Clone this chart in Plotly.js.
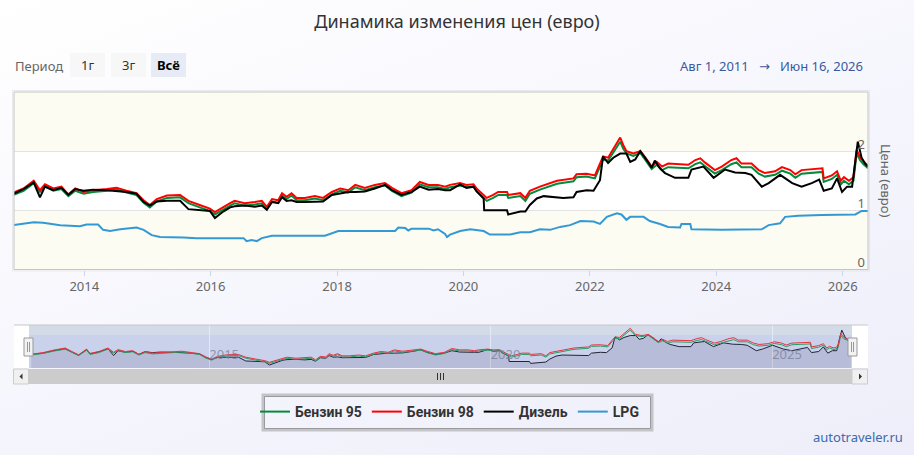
<!DOCTYPE html>
<html><head><meta charset="utf-8">
<script src="https://cdn.plot.ly/plotly-3.0.1.min.js"></script>
<style>
html,body{margin:0;padding:0;background:#fff;}
#wrap{width:914px;height:455px;background:linear-gradient(160deg,#ffffff 0%,#f5f5fd 55%,#eeeefa 100%);}
#chart{width:914px;height:455px;}
</style></head><body><div id="wrap"><div id="chart"></div></div>
<script>
// ---- data (decimal years, euro) ----
const gasYears = [
2011.84,2012.05,2012.23,2012.44,2012.56,2012.68,2012.82,2012.88,2013.04,2013.20,
2013.30,2013.38,2013.51,2013.64,2013.75,2013.86,2013.99,2014.14,2014.36,2014.51,
2014.67,2014.83,2014.94,2015.04,2015.15,2015.31,2015.52,2015.65,2015.83,2015.99,
2016.07,2016.20,2016.31,2016.38,2016.54,2016.70,2016.81,2016.89,2016.97,2017.07,
2017.13,2017.20,2017.28,2017.36,2017.49,2017.65,2017.78,2017.92,2018.05,2018.18,
2018.29,2018.44,2018.60,2018.76,2018.87,2019.02,2019.18,2019.31,2019.45,2019.60,
2019.71,2019.79,2019.95,2020.05,2020.16,2020.21,2020.32,2020.37,2020.47,2020.55,
2020.69,2020.71,2020.90,2020.98,2021.05,2021.21,2021.48,2021.74,2021.79,2021.95,
2022.08,2022.16,2022.21,2022.29,2022.40,2022.48,2022.53,2022.58,2022.69,2022.80,
2022.88,2022.98,2023.06,2023.14,2023.24,2023.56,2023.67,2023.75,2023.82,2023.98,
2024.09,2024.24,2024.32,2024.40,2024.56,2024.67,2024.77,2024.93,2025.04,2025.17,
2025.25,2025.35,2025.68,2025.70,2025.83,2025.91,2025.97,2026.02,2026.10,2026.17,
2026.22,2026.28,2026.33,2026.40];
const benzin98 = [
1.27,1.33,1.42,1.50,1.37,1.25,1.46,1.30,1.37,1.50,
1.34,1.44,1.37,1.40,1.27,1.37,1.31,1.34,1.36,1.38,
1.33,1.29,1.17,1.09,1.19,1.25,1.26,1.16,1.09,1.03,
0.97,1.06,1.12,1.16,1.12,1.14,1.16,1.06,1.19,1.17,
1.29,1.23,1.29,1.21,1.21,1.24,1.21,1.31,1.37,1.34,
1.43,1.38,1.43,1.46,1.38,1.29,1.34,1.48,1.43,1.43,
1.40,1.43,1.46,1.43,1.44,1.37,1.26,1.21,1.26,1.31,
1.31,1.26,1.29,1.21,1.33,1.40,1.50,1.54,1.61,1.62,
1.59,1.79,1.91,1.89,2.10,2.23,2.10,2.00,1.96,2.00,
1.89,1.74,1.82,1.74,1.79,1.77,1.85,1.88,1.81,1.68,
1.74,1.85,1.88,1.79,1.79,1.68,1.63,1.66,1.73,1.68,
1.61,1.68,1.71,1.54,1.59,1.66,1.50,1.56,1.50,1.56,
2.02,1.89,1.83,1.75];
const benzin95 = [
1.24,1.30,1.38,1.46,1.34,1.22,1.42,1.26,1.33,1.46,
1.31,1.40,1.33,1.36,1.24,1.33,1.28,1.31,1.33,1.35,
1.30,1.26,1.13,1.05,1.15,1.21,1.22,1.12,1.05,0.99,
0.93,1.02,1.08,1.12,1.08,1.10,1.12,1.02,1.15,1.13,
1.25,1.19,1.25,1.17,1.17,1.20,1.17,1.27,1.33,1.30,
1.39,1.34,1.39,1.42,1.33,1.24,1.30,1.44,1.39,1.39,
1.36,1.39,1.42,1.39,1.40,1.33,1.21,1.16,1.21,1.26,
1.26,1.21,1.24,1.16,1.28,1.35,1.45,1.49,1.56,1.57,
1.54,1.74,1.86,1.84,2.04,2.16,2.04,1.96,1.92,1.97,
1.85,1.70,1.77,1.68,1.73,1.71,1.78,1.81,1.75,1.62,
1.68,1.78,1.81,1.73,1.73,1.62,1.57,1.60,1.67,1.62,
1.55,1.62,1.65,1.48,1.53,1.60,1.44,1.50,1.44,1.50,
1.96,1.84,1.78,1.71];
const dieselYears = [
2011.84,2012.05,2012.23,2012.44,2012.56,2012.68,2012.82,2012.88,2013.04,2013.20,
2013.30,2013.38,2013.51,2013.64,2013.75,2013.86,2013.99,2014.14,2014.36,2014.51,
2014.67,2014.83,2014.94,2015.04,2015.15,2015.31,2015.52,2015.65,2015.83,2015.99,
2016.07,2016.20,2016.31,2016.38,2016.54,2016.70,2016.81,2016.89,2016.97,2017.07,
2017.13,2017.20,2017.28,2017.36,2017.49,2017.65,2017.78,2017.92,2018.05,2018.18,
2018.29,2018.44,2018.60,2018.76,2018.87,2019.02,2019.18,2019.31,2019.45,2019.60,
2019.71,2019.79,2019.95,2020.05,2020.16,2020.21,2020.32,2020.33,2020.55,2020.69,
2020.71,2020.90,2020.98,2021.05,2021.16,2021.27,2021.58,2021.74,2021.79,2021.95,
2022.06,2022.16,2022.21,2022.29,2022.37,2022.48,2022.58,2022.64,2022.72,2022.80,
2022.90,2022.98,2023.03,2023.11,2023.19,2023.35,2023.56,2023.61,2023.80,2023.96,
2024.14,2024.30,2024.46,2024.56,2024.72,2024.83,2025.01,2025.20,2025.35,2025.51,
2025.63,2025.70,2025.83,2025.91,2025.99,2026.07,2026.15,2026.20,2026.24,2026.30,
2026.36,2026.40];
const diesel = [
1.26,1.31,1.40,1.47,1.35,1.23,1.44,1.28,1.36,1.47,
1.22,1.40,1.34,1.38,1.26,1.36,1.33,1.35,1.34,1.33,
1.31,1.28,1.14,1.08,1.15,1.16,1.16,1.02,1.00,0.99,
0.87,0.98,1.05,1.07,1.08,1.06,1.08,1.01,1.14,1.12,
1.22,1.16,1.17,1.14,1.14,1.15,1.15,1.26,1.29,1.31,
1.31,1.32,1.37,1.43,1.34,1.26,1.31,1.40,1.35,1.36,
1.34,1.34,1.44,1.38,1.40,1.32,1.20,1.00,1.00,1.00,
0.93,0.98,0.98,1.09,1.20,1.24,1.21,1.22,1.31,1.34,
1.33,1.51,1.91,1.80,1.89,1.96,1.96,1.82,1.86,2.00,
1.85,1.72,1.84,1.71,1.63,1.55,1.55,1.69,1.74,1.55,
1.69,1.64,1.63,1.60,1.40,1.46,1.60,1.46,1.40,1.46,
1.52,1.33,1.37,1.54,1.31,1.40,1.40,1.88,2.16,1.89,
1.78,1.74];
const lpgYears = [
2012.88,2013.04,2013.20,2013.35,2013.62,2013.93,2014.04,2014.22,2014.30,2014.41,
2014.57,2014.83,2014.94,2015.07,2015.20,2015.57,2015.78,2016.52,2016.57,2016.65,
2016.73,2016.81,2016.97,2017.81,2017.92,2018.02,2018.92,2018.97,2019.08,2019.13,
2019.18,2019.45,2019.53,2019.60,2019.71,2019.74,2019.79,2019.95,2020.11,2020.32,
2020.42,2020.74,2020.90,2021.05,2021.21,2021.37,2021.53,2021.69,2021.85,2022.06,
2022.16,2022.27,2022.43,2022.50,2022.58,2022.64,2022.85,2022.95,2023.11,2023.24,
2023.43,2023.45,2023.59,2023.61,2024.09,2024.72,2024.83,2025.01,2025.09,2025.30,
2025.67,2026.20,2026.30,2026.40];
const lpg = [
0.75,0.77,0.80,0.79,0.75,0.73,0.76,0.76,0.67,0.65,
0.68,0.71,0.67,0.58,0.55,0.54,0.53,0.53,0.48,0.50,
0.48,0.53,0.57,0.57,0.61,0.65,0.65,0.71,0.70,0.66,
0.69,0.69,0.66,0.68,0.60,0.55,0.59,0.65,0.68,0.65,
0.59,0.59,0.63,0.63,0.68,0.67,0.72,0.75,0.82,0.81,
0.77,0.89,0.95,0.93,0.84,0.89,0.89,0.82,0.77,0.72,
0.71,0.77,0.77,0.68,0.67,0.68,0.75,0.78,0.89,0.91,
0.92,0.93,0.99,0.99];
const seriesNames = ['Бензин 95','Бензин 98','Дизель','LPG'];
const yTicks = [0,1,2];
const periodButtons = ['1г','3г','Всё'];
const mainRangeYears = [2012.89, 2026.40];
const navRangeYears = [2011.80, 2026.42];

// ---- helpers ----
function toDate(t){const y=Math.floor(t);const a=Date.UTC(y,0,1),b=Date.UTC(y+1,0,1);return new Date(a+(t-y)*(b-a)).toISOString().slice(0,10);}
const W=914,H=455;
const px=x=>x/W, py=y=>1-y/H;
const gasX=gasYears.map(toDate), dX=dieselYears.map(toDate), lX=lpgYears.map(toDate);

const FONT='"Noto Sans", "DejaVu Sans", sans-serif';
const colors={g:'#008c3a',r:'#ff0000',d:'#000000',l:'#3399d4'};

const traces=[
 {x:gasX,y:benzin95,name:seriesNames[0],type:'scatter',mode:'lines',line:{color:colors.g,width:2},xaxis:'x',yaxis:'y'},
 {x:gasX,y:benzin98,name:seriesNames[1],type:'scatter',mode:'lines',line:{color:colors.r,width:2},xaxis:'x',yaxis:'y'},
 {x:dX,y:diesel,name:seriesNames[2],type:'scatter',mode:'lines',line:{color:colors.d,width:2},xaxis:'x',yaxis:'y'},
 {x:lX,y:lpg,name:seriesNames[3],type:'scatter',mode:'lines',line:{color:colors.l,width:2},xaxis:'x',yaxis:'y'},
 // navigator
 {x:dX,y:diesel,type:'scatter',mode:'lines',line:{color:'#23233a',width:1},fill:'tozeroy',fillcolor:'rgba(95,90,125,0.16)',xaxis:'x2',yaxis:'y2',showlegend:false,hoverinfo:'skip'},
 {x:gasX,y:benzin95,type:'scatter',mode:'lines',line:{color:'#2f9a66',width:1},xaxis:'x2',yaxis:'y2',showlegend:false,hoverinfo:'skip'},
 {x:gasX,y:benzin98,type:'scatter',mode:'lines',line:{color:'#e8333f',width:1},xaxis:'x2',yaxis:'y2',showlegend:false,hoverinfo:'skip'}
];

const shapes=[];
function rect(x0,y0,x1,y1,fill,line,lw,layer){shapes.push({type:'rect',xref:'paper',yref:'paper',x0:px(x0),x1:px(x1),y0:py(y1),y1:py(y0),fillcolor:fill,line:{color:line||'rgba(0,0,0,0)',width:lw||0},layer:layer||'above'});}
function seg(x0,y0,x1,y1,color,w,layer){shapes.push({type:'line',xref:'paper',yref:'paper',x0:px(x0),x1:px(x1),y0:py(y0),y1:py(y1),line:{color:color,width:w||1},layer:layer||'above'});}
function tri(pts,fill){shapes.push({type:'path',xref:'paper',yref:'paper',path:'M'+pts.map(p=>px(p[0])+','+py(p[1])).join(' L')+' Z',fillcolor:fill,line:{width:0},layer:'above'});}

// main plot bands
shapes.push({type:'rect',xref:'x domain',yref:'y',x0:0,x1:1,y0:0,y1:1,fillcolor:'#fcfcf2',line:{width:0},layer:'below'});
shapes.push({type:'rect',xref:'x domain',yref:'y',x0:0,x1:1,y0:2,y1:3,fillcolor:'#fcfcf2',line:{width:0},layer:'below'});
shapes.push({type:'rect',xref:'x domain',yref:'y domain',x0:0,x1:1,y0:0,y1:1,fillcolor:'rgba(0,0,0,0)',line:{color:'#c4c4c4',width:1},layer:'above'});
rect(12.5,90.5,869.5,271,'rgba(0,0,0,0)','rgba(200,200,210,0.35)',1,'below');

// navigator background
rect(14,325,868,368,'#ffffff',null,0,'below');
rect(29,325,852,335,'#d2dbe7',null,0,'below');
rect(29,335,852,368,'#c9d1eb',null,0,'below');
seg(14,325,868,325,'#c8c8c8',1);
// handles
[[24,33],[848,857]].forEach(h=>{rect(h[0],338,h[1],356,'#f2f2f2','#999999',1);seg(h[0]+3.5,342,h[0]+3.5,352,'#999999',1);seg(h[0]+5.5,342,h[0]+5.5,352,'#999999',1);});
// scrollbar
rect(28.5,369,852,384,'#cccccc',null,0);
rect(13.5,369,28.5,384,'#f0f0f0','#cccccc',1);
rect(852,369,867.5,384,'#f0f0f0','#cccccc',1);
tri([[19.5,376.5],[22.5,373.5],[22.5,379.5]],'#333333');
tri([[862,376.5],[859,373.5],[859,379.5]],'#333333');
[437.5,440.5,443.5].forEach(x=>seg(x,373,x,380,'#333333',1));
// range buttons
const btnX=[[70,105],[111,146],[151,186]];
btnX.forEach((b,i)=>rect(b[0],53,b[1],77,i===2?'#e6ebf5':'#f7f7f7',null,0,'below'));
// legend frame
rect(263,395,652,430,'rgba(0,0,0,0)','#c4c4c8',3,'below');
rect(264.5,396.5,650.5,428.5,'rgba(0,0,0,0)','#9a9a9e',1,'below');

const annotations=[];
function txt(text,x,y,opt){annotations.push(Object.assign({text:text,xref:'paper',yref:'paper',x:px(x),y:py(y),showarrow:false,xanchor:'left',yanchor:'middle',font:{family:FONT,size:13,color:'#666666'}},opt||{}));}
txt('Период',13,66);
periodButtons.forEach((t,i)=>txt(t,(btnX[i][0]+btnX[i][1])/2,65.5,{xanchor:'center',font:{family:FONT,size:13,color:i===2?'#000000':'#333333',weight:i===2?'bold':'normal'}}));
txt('Авг 1, 2011&nbsp;&nbsp;&nbsp;→&nbsp;&nbsp;&nbsp;Июн 16, 2026',865,66,{xanchor:'right',font:{family:FONT,size:13,color:'#3a5a9e'}});
txt('Цена (евро)',886,180,{xanchor:'center',textangle:90,font:{family:FONT,size:13,color:'#666666'}});
txt('autotraveler.ru',905,437,{xanchor:'right',font:{family:FONT,size:13,color:'#3b6aae'}});

const layout={
 width:W,height:H,margin:{l:0,r:0,t:0,b:0},
 paper_bgcolor:'rgba(0,0,0,0)',plot_bgcolor:'#ffffff',
 font:{family:FONT,color:'#666666'},
 title:{text:'Динамика изменения цен (евро)',x:0.5,xanchor:'center',y:py(22),yanchor:'middle',font:{family:FONT,size:18,color:'#333333'}},
 showlegend:true,
 legend:{orientation:'h',x:px(255),xanchor:'left',y:py(412),yanchor:'middle',bgcolor:'rgba(0,0,0,0)',borderwidth:0,font:{family:'Roboto, "Noto Sans", sans-serif',size:14,color:'#333333',weight:'bold'}},
 xaxis:{domain:[px(14),px(868)],anchor:'y',type:'date',range:mainRangeYears.map(toDate),tick0:'2000-01-01',dtick:'M24',tickformat:'%Y',
  showgrid:false,zeroline:false,showline:false,ticks:'outside',ticklen:5,tickcolor:'#ccd6eb',tickfont:{family:FONT,size:13,color:'#666666'},fixedrange:true},
 yaxis:{domain:[py(269.5),py(92)],anchor:'x',range:[0,3],side:'right',tickvals:yTicks,ticks:'',ticklabelposition:'inside',ticklabelshift:-7,ticklabeloverflow:'allow',
  showgrid:true,gridcolor:'#e3e3e3',gridwidth:1,zeroline:false,showline:false,tickfont:{family:FONT,size:13,color:'#666666'},fixedrange:true},
 xaxis2:{domain:[px(29),px(852)],anchor:'y2',type:'date',range:navRangeYears.map(toDate),tick0:'2000-01-01',dtick:'M60',tickformat:'%Y',
  showgrid:true,gridcolor:'rgba(235,238,246,0.8)',zeroline:false,showline:false,ticks:'',ticklabelposition:'inside right',
  tickfont:{family:FONT,size:13,color:'rgba(120,126,150,0.75)'},fixedrange:true},
 yaxis2:{domain:[py(368),py(325)],anchor:'x2',range:[0.76,2.35],showgrid:false,zeroline:false,showticklabels:false,ticks:'',fixedrange:true},
 shapes:shapes,annotations:annotations
};
Plotly.newPlot('chart',traces,layout,{displayModeBar:false,staticPlot:true});
</script></body></html>
